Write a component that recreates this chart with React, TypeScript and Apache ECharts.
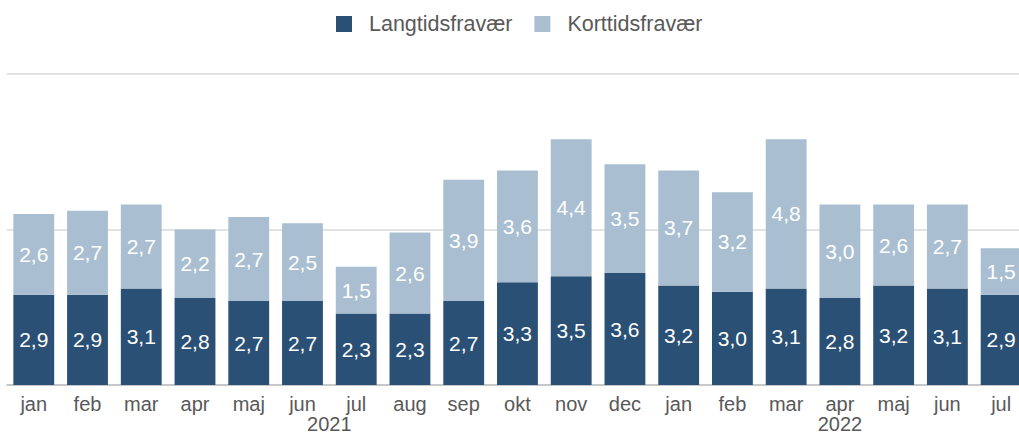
import React, { useEffect, useRef } from "react";
import * as echarts from "echarts";

const months = ["jan","feb","mar","apr","maj","jun","jul","aug","sep","okt","nov","dec","jan","feb","mar","apr","maj","jun","jul"];
const years = ["2021", "2022"];
const monthsPerYear = [12, 7];
const langtid = [2.9,2.9,3.1,2.8,2.7,2.7,2.3,2.3,2.7,3.3,3.5,3.6,3.2,3.0,3.1,2.8,3.2,3.1,2.9];
const korttid = [2.6,2.7,2.7,2.2,2.7,2.5,1.5,2.6,3.9,3.6,4.4,3.5,3.7,3.2,4.8,3.0,2.6,2.7,1.5];
const seriesNames = ["Langtidsfravær", "Korttidsfravær"];

const DARK = "#2a5075";
const LIGHT = "#a9bfd1";
const GRAY = "#595959";
const FONT = "'Liberation Sans', Arial, sans-serif";

export default function App() {
  const ref = useRef<HTMLDivElement>(null);
  useEffect(() => {
    if (!ref.current) return;
    const chart = echarts.init(ref.current, undefined, { renderer: "svg" });
    const yearCenters: { pos: number; label: string }[] = [];
    let start = 0;
    years.forEach((y, i) => {
      yearCenters.push({ pos: start + monthsPerYear[i] / 2, label: y });
      start += monthsPerYear[i];
    });
    const fmt = (v: number) => v.toFixed(1).replace(".", ",");
    const label = {
      show: true,
      position: "inside",
      color: "#ffffff",
      fontSize: 21,
      fontFamily: FONT,
      formatter: (p: any) => fmt(p.value),
    };
    chart.setOption({
      animation: false,
      textStyle: { fontFamily: FONT },
      legend: {
        data: seriesNames,
        left: 336,
        top: 13,
        padding: 0,
        icon: "rect",
        itemWidth: 16,
        itemHeight: 16,
        itemGap: 22,
        textStyle: { fontSize: 21.5, color: GRAY, fontFamily: FONT, padding: [0, 0, 0, 12] },
      },
      grid: { left: 6.9, right: 0.8, top: 74, bottom: 59, containLabel: false },
      xAxis: [
        {
          type: "category",
          data: months,
          position: "bottom",
          axisLine: { lineStyle: { color: "#bfbfbf", width: 1.5 } },
          axisTick: { show: false },
          axisLabel: { color: GRAY, fontSize: 20, fontFamily: FONT, margin: 9, interval: 0 },
        },
        {
          type: "value",
          min: 0,
          max: months.length,
          interval: 0.5,
          position: "bottom",
          axisLine: { show: false },
          axisTick: { show: false },
          splitLine: { show: false },
          axisLabel: {
            color: GRAY,
            fontSize: 20,
            fontFamily: FONT,
            margin: 29,
            showMinLabel: true,
            showMaxLabel: true,
            formatter: (v: number) => {
              const f = yearCenters.find((c) => Math.abs(c.pos - v) < 1e-6);
              return f ? f.label : "";
            },
          },
        },
      ],
      yAxis: {
        type: "value",
        min: 0,
        max: 10,
        interval: 5,
        axisLabel: { show: false },
        axisLine: { show: false },
        axisTick: { show: false },
        splitLine: { lineStyle: { color: "#d9d9d9", width: 1.5 } },
      },
      series: [
        {
          name: seriesNames[0],
          type: "bar",
          stack: "total",
          data: langtid,
          barCategoryGap: "24%",
          itemStyle: { color: DARK },
          label,
        },
        {
          name: seriesNames[1],
          type: "bar",
          stack: "total",
          data: korttid,
          barCategoryGap: "24%",
          itemStyle: { color: LIGHT },
          label,
        },
      ],
    });
    return () => chart.dispose();
  }, []);
  return (
    <div
      style={{ position: "absolute", left: 0, top: 0, width: 1019, height: 444, overflow: "hidden", background: "#fff" }}
    >
      <div ref={ref} style={{ width: 1031, height: 444 }} />
    </div>
  );
}
